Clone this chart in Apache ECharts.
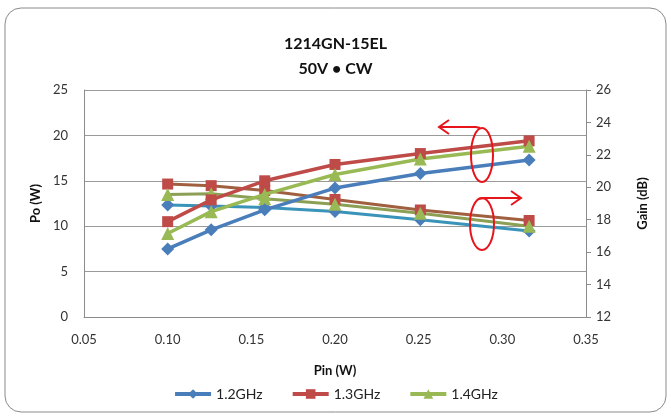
<!DOCTYPE html>
<html>
<head>
<meta charset="utf-8">
<script src="https://cdn.jsdelivr.net/npm/echarts@6/dist/echarts.min.js"></script>
<style>
html,body{margin:0;padding:0;background:#fff;}
#c{width:671px;height:417px;}
</style>
</head>
<body>
<div id="c"></div>
<script>
// Data
const pinW = [0.1, 0.126, 0.158, 0.2, 0.251, 0.316];
const seriesNames = ['1.2GHz', '1.3GHz', '1.4GHz'];
const po12 = [7.5, 9.6, 11.8, 14.2, 15.8, 17.3];
const po13 = [10.5, 12.9, 15.0, 16.8, 18.0, 19.4];
const po14 = [9.2, 11.6, 13.5, 15.7, 17.4, 18.8];
const gain12 = [18.9, 18.85, 18.75, 18.5, 18.0, 17.3];
const gain13 = [20.2, 20.1, 19.8, 19.25, 18.6, 17.95];
const gain14 = [19.55, 19.6, 19.3, 18.95, 18.4, 17.6];
const xTicks = [0.05, 0.10, 0.15, 0.20, 0.25, 0.30, 0.35];

const FONT = 'Lato, "Open Sans", sans-serif';
const markerColors = ['#4A7EBB', '#BE4B48', '#98B954'];
const poLineColors = ['#4A7EBB', '#BE4B48', '#98B954'];
const gainLineColors = ['#3A93B8', '#A0603F', '#8CA055'];
const symbols = ['diamond', 'rect', 'triangle'];
const symbolSizes = [13, 11, 13];

function pair(xs, ys) { return xs.map((x, i) => [x, ys[i]]); }

const poData = [po12, po13, po14];
const gainData = [gain12, gain13, gain14];
const series = [];
for (let k = 0; k < 3; k++) {
  series.push({
    name: seriesNames[k], type: 'line', yAxisIndex: 0,
    data: pair(pinW, poData[k]),
    symbol: symbols[k], symbolSize: symbolSizes[k],
    lineStyle: { color: poLineColors[k], width: 3.5 },
    itemStyle: { color: markerColors[k] },
    z: 3
  });
}
for (let k = 0; k < 3; k++) {
  series.push({
    name: seriesNames[k], type: 'line', yAxisIndex: 1,
    data: pair(pinW, gainData[k]),
    symbol: symbols[k], symbolSize: symbolSizes[k],
    lineStyle: { color: gainLineColors[k], width: 3 },
    itemStyle: { color: markerColors[k] },
    z: 2
  });
}

const chart = echarts.init(document.getElementById('c'), null, { renderer: 'canvas' });
const red = '#E8141B';
chart.setOption({
  animation: false,
  backgroundColor: '#fff',
  textStyle: { fontFamily: FONT },
  title: {
    text: '1214GN-15EL\n50V • CW',
    left: 'center', top: 26,
    textStyle: { fontFamily: FONT, fontWeight: 'bold', fontSize: 16, lineHeight: 25, color: '#111' }
  },
  grid: { left: 84, right: 85, top: 90, bottom: 100 },
  legend: {
    data: seriesNames,
    top: 382, left: 'center',
    itemWidth: 36, itemHeight: 12, itemGap: 28,
    lineStyle: { width: 4 },
    textStyle: { fontFamily: FONT, fontSize: 14, color: '#222' }
  },
  xAxis: {
    type: 'value', min: 0.05, max: 0.35, interval: 0.05,
    name: 'Pin (W)', nameLocation: 'middle', nameGap: 47,
    nameTextStyle: { fontFamily: FONT, fontWeight: 'bold', fontSize: 13, color: '#111' },
    axisLine: { show: true, lineStyle: { color: '#8c8c8c', width: 1 } },
    axisTick: { show: false },
    splitLine: { show: false },
    axisLabel: { fontFamily: FONT, fontSize: 13, color: '#333', margin: 16,
      formatter: v => { const t = xTicks.find(q => Math.abs(q - v) < 1e-9); return (t !== undefined ? t : v).toFixed(2); } }
  },
  yAxis: [
    {
      type: 'value', min: 0, max: 25, interval: 5, position: 'left',
      name: 'Po (W)', nameLocation: 'middle', nameGap: 40, nameRotate: 90,
      nameTextStyle: { fontFamily: FONT, fontWeight: 'bold', fontSize: 13, color: '#111' },
      axisLine: { show: true, lineStyle: { color: '#8c8c8c', width: 1 } },
      axisTick: { show: false },
      splitLine: { show: true, lineStyle: { color: '#9a9a9a', width: 1 } },
      axisLabel: { fontFamily: FONT, fontSize: 13, color: '#333', margin: 16 }
    },
    {
      type: 'value', min: 12, max: 26, interval: 2, position: 'right',
      name: 'Gain (dB)', nameLocation: 'middle', nameGap: 50, nameRotate: 90,
      nameTextStyle: { fontFamily: FONT, fontWeight: 'bold', fontSize: 13, color: '#111' },
      axisLine: { show: true, lineStyle: { color: '#8c8c8c', width: 1 } },
      axisTick: { show: true, length: 5, lineStyle: { color: '#8c8c8c' } },
      splitLine: { show: false },
      axisLabel: { fontFamily: FONT, fontSize: 13, color: '#333', margin: 10 }
    }
  ],
  series: series,
  graphic: [
    { type: 'rect', shape: { x: 5, y: 8, width: 661, height: 404, r: 16 },
      style: { fill: 'none', stroke: '#8a8a8a', lineWidth: 1 }, z: -1, silent: true },
    // upper annotation: ellipse + left arrow
    { type: 'ellipse', shape: { cx: 482, cy: 155, rx: 11, ry: 27 },
      style: { fill: 'none', stroke: red, lineWidth: 2 }, z: 10 },
    { type: 'polyline', shape: { points: [[480, 128], [476, 127], [440, 127]] },
      style: { fill: 'none', stroke: red, lineWidth: 2 }, z: 10 },
    { type: 'polyline', shape: { points: [[449, 120], [439, 127], [449, 134]] },
      style: { fill: 'none', stroke: red, lineWidth: 2 }, z: 10 },
    // lower annotation: ellipse + right arrow
    { type: 'ellipse', shape: { cx: 482, cy: 224, rx: 12, ry: 26 },
      style: { fill: 'none', stroke: red, lineWidth: 2 }, z: 10 },
    { type: 'polyline', shape: { points: [[478, 199], [484, 198], [520, 198]] },
      style: { fill: 'none', stroke: red, lineWidth: 2 }, z: 10 },
    { type: 'polyline', shape: { points: [[511, 191], [521, 198], [511, 205]] },
      style: { fill: 'none', stroke: red, lineWidth: 2 }, z: 10 }
  ]
});
</script>
</body>
</html>
